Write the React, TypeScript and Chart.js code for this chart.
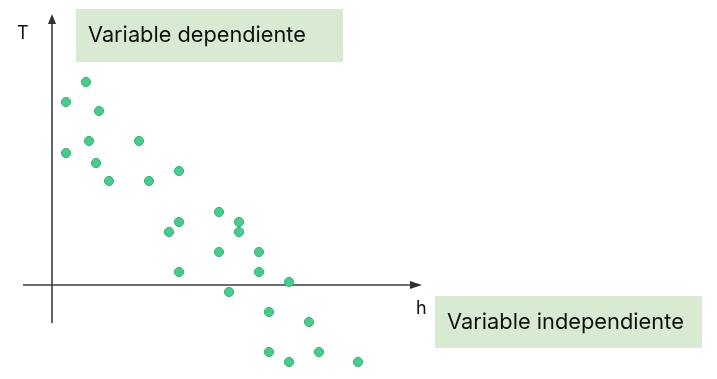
import React, { useEffect, useRef } from "react";
import { Chart, registerables } from "chart.js";

Chart.register(...registerables);

// h (independent variable) and T (dependent variable) of each sample
const hValues = [
  3.4, 1.4, 4.7, 3.7, 8.7, 1.4, 4.4, 12.7, 5.7, 9.7,
  16.7, 12.7, 18.7, 11.7, 18.7, 16.7, 20.7, 12.7, 20.7, 23.7,
  17.7, 21.7, 25.7, 21.7, 26.7, 23.7, 30.6,
];
const tValues = [
  20.3, 18.3, 17.4, 14.4, 14.4, 13.2, 12.2, 11.4, 10.4, 10.4,
  7.3, 6.3, 6.3, 5.3, 5.3, 3.3, 3.3, 1.3, 1.3, 0.3,
  -0.7, -2.7, -3.7, -6.7, -6.7, -7.7, -7.7,
];
const yAxisLabel = "T";
const xAxisLabel = "h";
const dependentLabel = "Variable dependiente";
const independentLabel = "Variable independiente";

const FONT = "Inter, Lato, 'Open Sans', sans-serif";

const decorPlugin = {
  id: "decor",
  beforeDatasetsDraw(chart: any) {
    const { ctx, scales } = chart;
    const xs = scales.x;
    const ys = scales.y;
    const x0 = xs.getPixelForValue(0);
    const y0 = ys.getPixelForValue(0);
    ctx.save();
    ctx.strokeStyle = "#3a3d40";
    ctx.fillStyle = "#2f3235";
    ctx.lineWidth = 1.6;
    // vertical axis
    const yTop = ys.getPixelForValue(27.1);
    const yBot = ys.getPixelForValue(-3.8);
    ctx.beginPath();
    ctx.moveTo(x0, yBot);
    ctx.lineTo(x0, yTop + 8);
    ctx.stroke();
    ctx.beginPath();
    ctx.moveTo(x0, yTop);
    ctx.lineTo(x0 - 4, yTop + 10);
    ctx.lineTo(x0 + 4, yTop + 10);
    ctx.closePath();
    ctx.fill();
    // horizontal axis
    const xL = xs.getPixelForValue(-2.9);
    const xR = xs.getPixelForValue(37.0);
    ctx.beginPath();
    ctx.moveTo(xL, y0);
    ctx.lineTo(xR - 8, y0);
    ctx.stroke();
    ctx.beginPath();
    ctx.moveTo(xR, y0);
    ctx.lineTo(xR - 12, y0 - 4);
    ctx.lineTo(xR - 12, y0 + 4);
    ctx.closePath();
    ctx.fill();

    // axis letters
    ctx.fillStyle = "#111";
    ctx.font = `18px ${FONT}`;
    ctx.textAlign = "left";
    ctx.textBaseline = "alphabetic";
    ctx.fillText(yAxisLabel, x0 - 35, ys.getPixelForValue(24.6));
    ctx.fillText(xAxisLabel, xR - 6, ys.getPixelForValue(-2.9));

    // label boxes
    const drawBox = (text: string, bx: number, by: number, bw: number, bh: number, tx: number, tw: number) => {
      ctx.fillStyle = "#d9ead3";
      ctx.fillRect(bx, by, bw, bh);
      ctx.fillStyle = "#111";
      let size = 21;
      ctx.font = `${size}px ${FONT}`;
      const w = ctx.measureText(text).width;
      size = size * tw / w;
      ctx.font = `${size}px ${FONT}`;
      ctx.textBaseline = "middle";
      ctx.fillText(text, tx, by + bh / 2);
    };
    const ca = chart.chartArea;
    drawBox(dependentLabel, ca.left + 76, ca.top + 9, 267, 53, ca.left + 88, 218);
    drawBox(independentLabel, ca.left + 435, ca.top + 296, 267, 52, ca.left + 447, 237);
    ctx.restore();
  },
};

export default function App() {
  const ref = useRef<HTMLCanvasElement | null>(null);
  useEffect(() => {
    if (!ref.current) return;
    const points = hValues.map((h, i) => ({ x: h, y: tValues[i] }));
    const chart = new Chart(ref.current, {
      type: "scatter",
      data: {
        datasets: [
          {
            data: points,
            backgroundColor: "#4cc98d",
            borderColor: "#34b078",
            borderWidth: 1,
            pointRadius: 4.6,
          },
        ],
      },
      options: {
        animation: false,
        responsive: false,
        maintainAspectRatio: false,
        layout: { padding: 0, autoPadding: false },
        plugins: { legend: { display: false }, tooltip: { enabled: false } },
        scales: {
          x: { type: "linear", display: false, min: -5.2, max: 66.5 },
          y: { type: "linear", display: false, min: -9.4, max: 28.5 },
        },
      },
      plugins: [decorPlugin],
    });
    return () => chart.destroy();
  }, []);
  return (
    <div style={{ position: "fixed", left: 0, top: 0, width: 717, height: 379, background: "#fff" }}>
      <canvas ref={ref} width={717} height={379} style={{ width: 717, height: 379 }} />
    </div>
  );
}
